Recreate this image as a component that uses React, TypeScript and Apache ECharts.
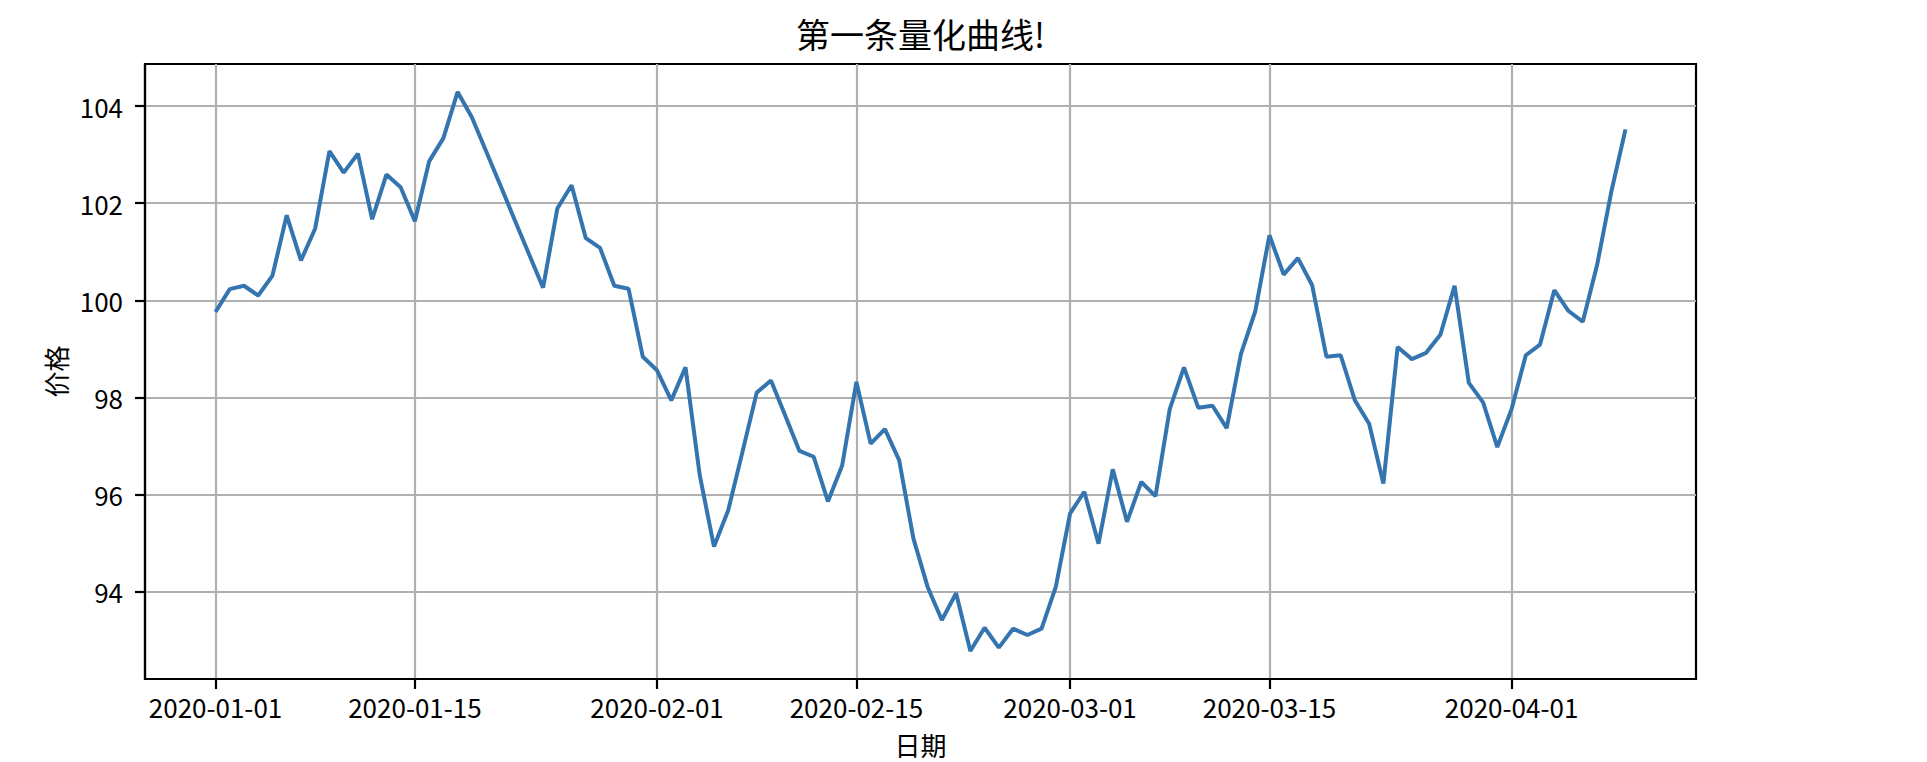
import React, { useEffect, useRef } from 'react';
import * as echarts from 'echarts';

// ---- data ----
const TITLE = '第一条量化曲线!';
const X_NAME = '日期';
const Y_NAME = '价格';
const START_DATE = '2020-01-01';

const prices: number[] = [
  99.76, 100.23, 100.3, 100.1, 100.51, 101.75, 100.82, 101.48, 103.07, 102.63,
  103.02, 101.67, 102.59, 102.33, 101.63, 102.86, 103.34, 104.29, 103.77, 103.07,
  102.37, 101.66, 100.96, 100.26, 101.89, 102.37, 101.28, 101.08, 100.3, 100.24,
  98.84, 98.56, 97.94, 98.62, 96.4, 94.93, 95.68, 96.88, 98.1, 98.35,
  97.63, 96.9, 96.78, 95.86, 96.6, 98.32, 97.05, 97.35, 96.71, 95.1,
  94.1, 93.42, 93.97, 92.78, 93.26, 92.85, 93.24, 93.11, 93.24, 94.1,
  95.61, 96.06, 94.99, 96.52, 95.44, 96.26, 95.97, 97.76, 98.62, 97.79,
  97.83, 97.37, 98.9, 99.77, 101.34, 100.53, 100.87, 100.31, 98.84, 98.87,
  97.94, 97.46, 96.23, 99.04, 98.79, 98.92, 99.29, 100.3, 98.3, 97.9,
  96.98, 97.76, 98.87, 99.09, 100.21, 99.78, 99.56, 100.72, 102.23, 103.52,
];

const xTickLabels: string[] = [
  '2020-01-01', '2020-01-15', '2020-02-01', '2020-02-15',
  '2020-03-01', '2020-03-15', '2020-04-01',
];
const yTickValues: number[] = [94, 96, 98, 100, 102, 104];

// ---- helpers ----
const DAY = 86400000;
function parseDay(s: string): number {
  const [y, m, d] = s.split('-').map(Number);
  return Date.UTC(y, m - 1, d);
}
function pad(n: number) {
  return n < 10 ? '0' + n : '' + n;
}
const startTs = parseDay(START_DATE);
// x positions are day offsets from the start date
function dayOffset(s: string): number {
  return Math.round((parseDay(s) - startTs) / DAY);
}
function fmtOffset(off: number): string {
  const d = new Date(startTs + Math.round(off) * DAY);
  return d.getUTCFullYear() + '-' + pad(d.getUTCMonth() + 1) + '-' + pad(d.getUTCDate());
}

const seriesData = prices.map((v, i) => [i, v]);

const FONT = '"Noto Sans CJK SC", "Noto Sans", sans-serif';

export default function App() {
  const ref = useRef<HTMLDivElement>(null);

  useEffect(() => {
    if (!ref.current) return;
    const chart = echarts.init(ref.current, null, { renderer: 'svg' });

    const n = prices.length;
    const xSpan = n - 1;
    const xMin = -xSpan * 0.05;
    const xMax = n - 1 + xSpan * 0.05;
    const pMin = Math.min(...prices);
    const pMax = Math.max(...prices);
    const pSpan = pMax - pMin;
    const yMin = pMin - pSpan * 0.05;
    const yMax = pMax + pSpan * 0.05;

    const xTicks = xTickLabels.map(dayOffset);

    chart.setOption({
      animation: false,
      backgroundColor: '#ffffff',
      textStyle: { fontFamily: FONT },
      title: {
        text: TITLE,
        left: 920.5,
        top: 16,
        padding: 0,
        textAlign: 'center',
        textStyle: { fontFamily: FONT, fontSize: 34, fontWeight: 'normal', color: '#000' },
      },
      grid: {
        left: 145,
        right: 231,
        top: 64,
        bottom: 81,
        show: true,
        borderColor: '#000',
        borderWidth: 2.2,
        containLabel: false,
      },
      xAxis: {
        type: 'value',
        min: xMin,
        max: xMax,
        name: X_NAME,
        nameLocation: 'middle',
        nameGap: 52,
        nameTextStyle: { fontFamily: FONT, fontSize: 26, color: '#000' },
        axisLine: { show: true, onZero: false, lineStyle: { color: '#000', width: 2.2 } },
        axisTick: {
          show: true,
          length: 10,
          inside: false,
          customValues: xTicks,
          lineStyle: { color: '#000', width: 2.2 },
        },
        axisLabel: {
          show: true,
          customValues: xTicks,
          margin: 14,
          fontFamily: FONT,
          fontSize: 26,
          color: '#000',
          formatter: (v: number) => fmtOffset(v),
        },
        splitLine: { show: true, lineStyle: { color: '#b0b0b0', width: 2.2 } },
      },
      yAxis: {
        type: 'value',
        min: yMin,
        max: yMax,
        name: Y_NAME,
        nameLocation: 'middle',
        nameGap: 76,
        nameRotate: 90,
        nameTextStyle: { fontFamily: FONT, fontSize: 26, color: '#000' },
        axisLine: { show: true, onZero: false, lineStyle: { color: '#000', width: 2.2 } },
        axisTick: {
          show: true,
          length: 10,
          inside: false,
          customValues: yTickValues,
          lineStyle: { color: '#000', width: 2.2 },
        },
        axisLabel: {
          show: true,
          customValues: yTickValues,
          margin: 22,
          fontFamily: FONT,
          fontSize: 26,
          color: '#000',
          formatter: (v: number) => String(Math.round(v)),
        },
        splitLine: { show: true, lineStyle: { color: '#b0b0b0', width: 2.2 } },
      },
      series: [
        {
          type: 'line',
          data: seriesData,
          showSymbol: false,
          symbol: 'none',
          lineStyle: { color: '#3475b0', width: 4 },
          itemStyle: { color: '#3475b0' },
          z: 3,
        },
      ],
    });

    return () => chart.dispose();
  }, []);

  return (
    <div
      ref={ref}
      style={{ position: 'fixed', left: 0, top: 0, width: 1927, height: 762, background: '#fff' }}
    />
  );
}
